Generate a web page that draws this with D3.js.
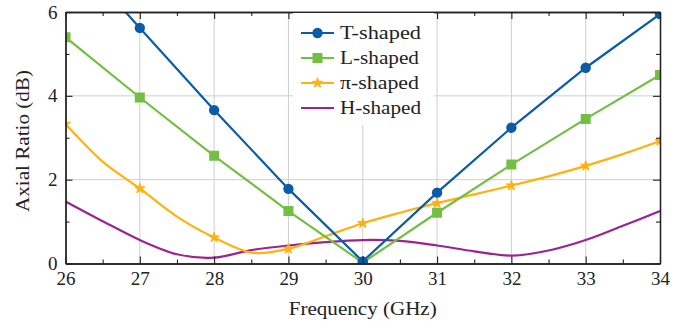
<!DOCTYPE html>
<html>
 <head>
  <meta charset="UTF-8">
  <title>Axial Ratio</title>
  <style>
    body { margin: 0; background: #fff; }
    text { font-family: "Liberation Serif", "DejaVu Serif", serif; fill: #222; }
  </style>
 </head>
 <body>
<div id="viz-wrapper">
</div>
 </body>
 <script src="https://d3js.org/d3.v7.min.js" charset="utf-8"></script>
 <script type="text/javascript">
    // values
    var freqs = [26, 27, 28, 29, 30, 31, 32, 33, 34];
    var tShaped = [7.6, 5.62, 3.66, 1.78, 0.05, 1.69, 3.24, 4.67, 5.95];
    var lShaped = [5.40, 3.96, 2.57, 1.25, 0.02, 1.21, 2.36, 3.45, 4.50];
    // pi and H are smooth curves, sampled every half GHz
    var halfFreqs = [26, 26.5, 27, 27.5, 28, 28.5, 29, 29.5, 30, 30.5, 31, 31.5, 32, 32.5, 33, 33.5, 34];
    var piShaped = [3.33, 2.43, 1.79, 1.12, 0.62, 0.26, 0.35, 0.65, 0.96, 1.21, 1.44, 1.65, 1.86, 2.08, 2.33, 2.61, 2.92];
    var hShaped = [1.48, 1.01, 0.56, 0.22, 0.14, 0.32, 0.43, 0.51, 0.56, 0.54, 0.43, 0.29, 0.19, 0.31, 0.56, 0.9, 1.25];
    var xTicks = [26, 27, 28, 29, 30, 31, 32, 33, 34];
    var yTicks = [0, 2, 4, 6];
    var seriesNames = ["T-shaped", "L-shaped", "\u03c0-shaped", "H-shaped"];
    var seriesColors = ["#0b5ca8", "#72bf44", "#ffb20f", "#9c2490"];

    var width = 697,
        height = 328;

    // plot box edges
    var pLeft = 65.5, pRight = 660, pTop = 12, pBottom = 263.5;

    var x = d3.scaleLinear().domain([26, 34]).range([pLeft, pRight]);
    var y = d3.scaleLinear().domain([0, 6]).range([pBottom, pTop]);

    var viz = d3.select("#viz-wrapper")
                .append('svg')
                .attr('id', 'viz')
                .attr('height', height)
                .attr('width', width);

    viz.append('defs').append('clipPath').attr('id', 'plot-clip')
       .append('rect')
       .attr('x', pLeft).attr('y', pTop)
       .attr('width', pRight - pLeft).attr('height', pBottom - pTop);

    //grid lines
    var grid = viz.append('g').attr('class', 'grid');
    grid.selectAll('line.gx')
        .data(xTicks.slice(1, -1))
        .enter().append('line')
        .attr('x1', function(d) { return x(d); })
        .attr('x2', function(d) { return x(d); })
        .attr('y1', pTop).attr('y2', pBottom)
        .style('stroke', '#cfcfcf').style('stroke-width', 1);
    grid.selectAll('line.gy')
        .data(yTicks.slice(1, -1))
        .enter().append('line')
        .attr('x1', pLeft).attr('x2', pRight)
        .attr('y1', function(d) { return y(d); })
        .attr('y2', function(d) { return y(d); })
        .style('stroke', '#cfcfcf').style('stroke-width', 1);

    //data
    var plot = viz.append('g').attr('clip-path', 'url(#plot-clip)');

    var straight = d3.line()
        .x(function(d) { return x(d[0]); })
        .y(function(d) { return y(d[1]); });
    var smooth = d3.line()
        .x(function(d) { return x(d[0]); })
        .y(function(d) { return y(d[1]); })
        .curve(d3.curveCardinal.tension(0.1));

    var tPts = d3.zip(freqs, tShaped),
        lPts = d3.zip(freqs, lShaped),
        piPts = d3.zip(halfFreqs, piShaped),
        hPts = d3.zip(halfFreqs, hShaped);

    plot.append('path').datum(hPts).attr('d', smooth)
        .style('fill', 'none').style('stroke', seriesColors[3]).style('stroke-width', 2.2);
    plot.append('path').datum(piPts).attr('d', smooth)
        .style('fill', 'none').style('stroke', seriesColors[2]).style('stroke-width', 2.2);
    plot.append('path').datum(lPts).attr('d', straight)
        .style('fill', 'none').style('stroke', seriesColors[1]).style('stroke-width', 2.2);
    plot.append('path').datum(tPts).attr('d', straight)
        .style('fill', 'none').style('stroke', seriesColors[0]).style('stroke-width', 2.2);

    var star = d3.symbol().type(d3.symbolStar).size(32);
    var square = d3.symbol().type(d3.symbolSquare).size(100);

    plot.selectAll('path.pi-mark')
        .data(piPts.filter(function(d) { return d[0] % 1 === 0; }))
        .enter().append('path')
        .attr('d', star)
        .attr('transform', function(d) { return 'translate(' + x(d[0]) + ',' + y(d[1]) + ')'; })
        .style('fill', seriesColors[2])
        .style('stroke', seriesColors[2]).style('stroke-width', 1);
    plot.selectAll('path.l-mark')
        .data(lPts)
        .enter().append('path')
        .attr('d', square)
        .attr('transform', function(d) { return 'translate(' + x(d[0]) + ',' + y(d[1]) + ')'; })
        .style('fill', seriesColors[1]);
    plot.selectAll('circle')
        .data(tPts)
        .enter().append('circle')
        .attr('cx', function(d) { return x(d[0]); })
        .attr('cy', function(d) { return y(d[1]); })
        .attr('r', 5.2)
        .style('fill', seriesColors[0]);

    //frame with inward ticks on all four sides
    var minorX = d3.range(26.5, 34, 1),
        minorY = [1, 3, 5];
    function frameAxis(axis, transform) {
        var g = viz.append('g').attr('transform', transform).call(axis);
        g.selectAll('line').style('stroke', '#222').style('stroke-width', 1.1);
        g.select('.domain').style('stroke', '#222').style('stroke-width', 1.3);
        return g;
    }
    frameAxis(d3.axisBottom(x).tickValues(minorX).tickSize(-4).tickSizeOuter(0).tickFormat(''), 'translate(0,' + pBottom + ')');
    frameAxis(d3.axisTop(x).tickValues(minorX).tickSize(-4).tickSizeOuter(0).tickFormat(''), 'translate(0,' + pTop + ')');
    frameAxis(d3.axisLeft(y).tickValues(minorY).tickSize(-4).tickSizeOuter(0).tickFormat(''), 'translate(' + pLeft + ',0)');
    frameAxis(d3.axisRight(y).tickValues(minorY).tickSize(-4).tickSizeOuter(0).tickFormat(''), 'translate(' + pRight + ',0)');
    frameAxis(d3.axisTop(x).tickValues(xTicks).tickSize(-7).tickSizeOuter(0).tickFormat(''), 'translate(0,' + pTop + ')');
    frameAxis(d3.axisRight(y).tickValues(yTicks).tickSize(-7).tickSizeOuter(0).tickFormat(''), 'translate(' + pRight + ',0)');

    var xAxis = frameAxis(d3.axisBottom(x).tickValues(xTicks).tickSize(-7).tickSizeOuter(0)
                            .tickPadding(8).tickFormat(d3.format('d')), 'translate(0,' + pBottom + ')');
    xAxis.selectAll('text').style('font-size', '19px').style('font-family', '"Liberation Serif", serif').style('fill', '#222');
    var yAxis = frameAxis(d3.axisLeft(y).tickValues(yTicks).tickSize(-7).tickSizeOuter(0)
                            .tickPadding(8).tickFormat(d3.format('d')), 'translate(' + pLeft + ',0)');
    yAxis.selectAll('text').style('font-size', '19px').style('font-family', '"Liberation Serif", serif').style('fill', '#222');

    //axis titles
    viz.append('text')
       .attr('x', (pLeft + pRight) / 2).attr('y', 315)
       .attr('text-anchor', 'middle')
       .attr('textLength', 148).attr('lengthAdjust', 'spacingAndGlyphs')
       .style('font-size', '19px')
       .text('Frequency (GHz)');
    viz.append('text')
       .attr('transform', 'translate(29,141) rotate(-90)')
       .attr('text-anchor', 'middle')
       .attr('textLength', 142).attr('lengthAdjust', 'spacingAndGlyphs')
       .style('font-size', '19px')
       .text('Axial Ratio (dB)');

    //legend
    var legend = viz.append('g');
    legend.append('rect')
          .attr('x', 293).attr('y', 13)
          .attr('width', 141).attr('height', 112)
          .style('fill', '#fff');
    var entries = legend.selectAll('g.entry')
          .data(seriesNames)
          .enter().append('g')
          .attr('transform', function(d, i) { return 'translate(0,' + (33 + i * 25) + ')'; });
    entries.append('line')
           .attr('x1', 301).attr('x2', 334)
           .style('stroke', function(d, i) { return seriesColors[i]; })
           .style('stroke-width', 2.2);
    entries.filter(function(d, i) { return i === 0; }).append('circle')
           .attr('cx', 317.5).attr('r', 5.2).style('fill', seriesColors[0]);
    entries.filter(function(d, i) { return i === 1; }).append('path')
           .attr('d', square).attr('transform', 'translate(317.5,0)').style('fill', seriesColors[1]);
    entries.filter(function(d, i) { return i === 2; }).append('path')
           .attr('d', star).attr('transform', 'translate(317.5,0)')
           .style('fill', seriesColors[2]).style('stroke', seriesColors[2]).style('stroke-width', 1);
    entries.append('text')
           .attr('x', 340).attr('y', 6)
           .attr('textLength', function(d, i) { return [81, 79, 79, 81][i]; })
           .attr('lengthAdjust', 'spacingAndGlyphs')
           .style('font-size', '19px')
           .text(function(d) { return d; });
 </script>
</html>
